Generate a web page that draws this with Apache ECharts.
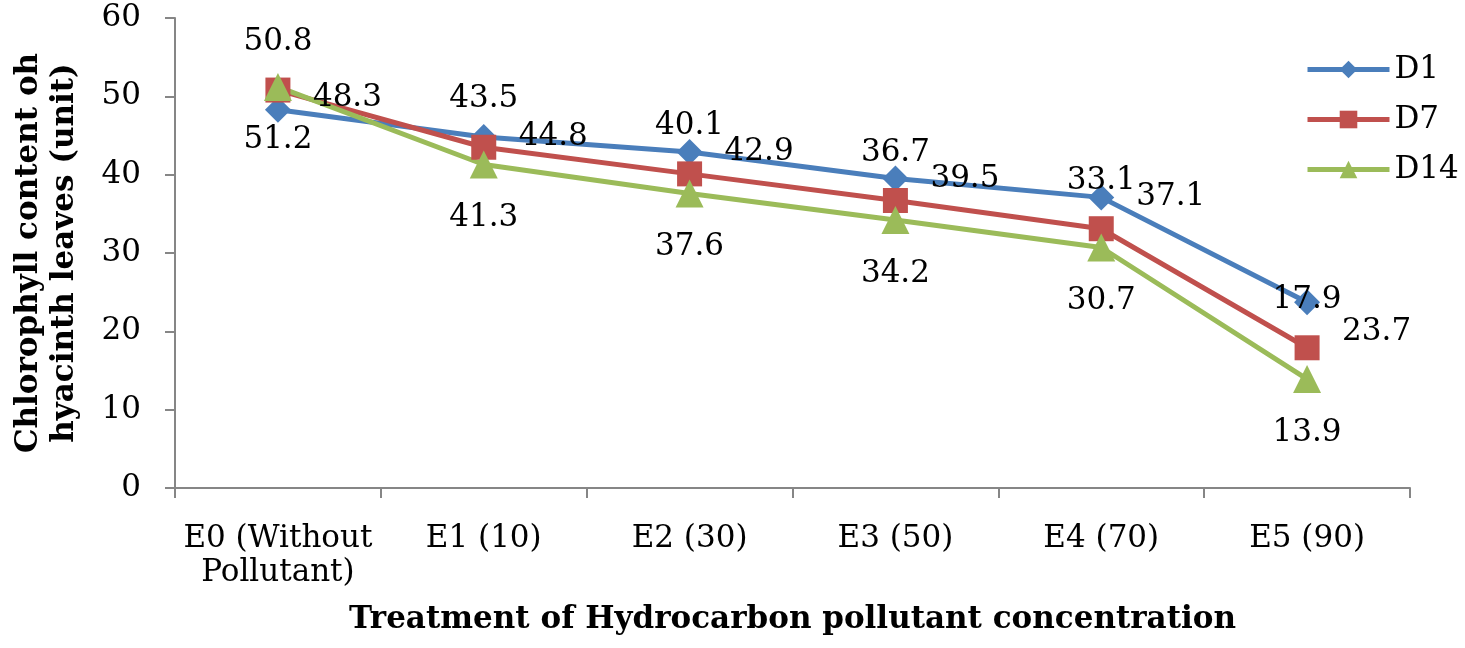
<!DOCTYPE html>
<html>
<head>
<meta charset="utf-8">
<script src="https://cdn.jsdelivr.net/npm/echarts@6/dist/echarts.min.js"></script>
<style>
html,body{margin:0;padding:0;background:#fff;}
#chart{width:1465px;height:648px;}
</style>
</head>
<body>
<div id="chart"></div>
<script>
const categories = ["E0 (Without\nPollutant)", "E1 (10)", "E2 (30)", "E3 (50)", "E4 (70)", "E5 (90)"];
const seriesNames = ["D1", "D7", "D14"];
const d1 = [48.3, 44.8, 42.9, 39.5, 37.1, 23.7];
const d7 = [50.8, 43.5, 40.1, 36.7, 33.1, 17.9];
const d14 = [51.2, 41.3, 37.6, 34.2, 30.7, 13.9];
const yTicks = [0, 10, 20, 30, 40, 50, 60];

const FONT = "DejaVu Serif";
const FS = 31;
const chart = echarts.init(document.getElementById('chart'));

function mk(name, data, color, symbol, size, labelPos, labelDist, shifts) {
  return {
    name: name, type: 'line',
    data: data.map((v, i) => shifts && shifts[i] ? {value: v, label: {offset: [0, shifts[i]]}} : v),
    symbol: symbol, symbolSize: size,
    lineStyle: {color: color, width: 5},
    itemStyle: {color: color},
    label: {show: true, position: labelPos, distance: labelDist,
            fontFamily: FONT, fontSize: FS, color: '#000'},
    z: 2
  };
}

chart.setOption({
  animation: false,
  grid: {left: 175, right: 55, top: 18, bottom: 160},
  legend: {
    orient: 'vertical', left: 1300, top: 49, itemGap: 19,
    itemWidth: 82, itemHeight: 22,
    lineStyle: {width: 5},
    textStyle: {fontFamily: FONT, fontSize: FS, color: '#000'},
    data: seriesNames
  },
  xAxis: {
    type: 'category', data: categories, boundaryGap: true,
    axisLine: {lineStyle: {color: '#868686', width: 2}},
    axisTick: {show: true, length: 10, lineStyle: {color: '#868686', width: 2}},
    axisLabel: {fontFamily: FONT, fontSize: FS, color: '#000', margin: 34, lineHeight: 34, interval: 0},
    name: 'Treatment of Hydrocarbon pollutant concentration',
    nameLocation: 'middle', nameGap: 116,
    nameTextStyle: {fontFamily: FONT, fontSize: 31, fontWeight: 'bold', color: '#000'}
  },
  yAxis: {
    type: 'value', min: 0, max: 60, interval: 10,
    axisLine: {show: true, lineStyle: {color: '#868686', width: 2}},
    axisTick: {show: true, length: 10, lineStyle: {color: '#868686', width: 2}},
    splitLine: {show: false},
    axisLabel: {fontFamily: FONT, fontSize: FS, color: '#000', margin: 34,
                formatter: v => yTicks.includes(v) ? String(v) : ''},
    name: 'Chlorophyll content oh\nhyacinth leaves (unit)',
    nameLocation: 'middle', nameRotate: 90, nameGap: 92,
    nameTextStyle: {fontFamily: FONT, fontSize: 31, fontWeight: 'bold', color: '#000', lineHeight: 36}
  },
  series: [
    mk(seriesNames[0], d1, '#4A7EBB', 'diamond', 26, 'right', 22, [-12, 0, 0, 0, 0, 30]),
    mk(seriesNames[1], d7, '#C0504D', 'rect', 25, 'top', 20),
    mk(seriesNames[2], d14, '#9BBB59', 'triangle', 28, 'bottom', 24)
  ]
});
</script>
</body>
</html>
